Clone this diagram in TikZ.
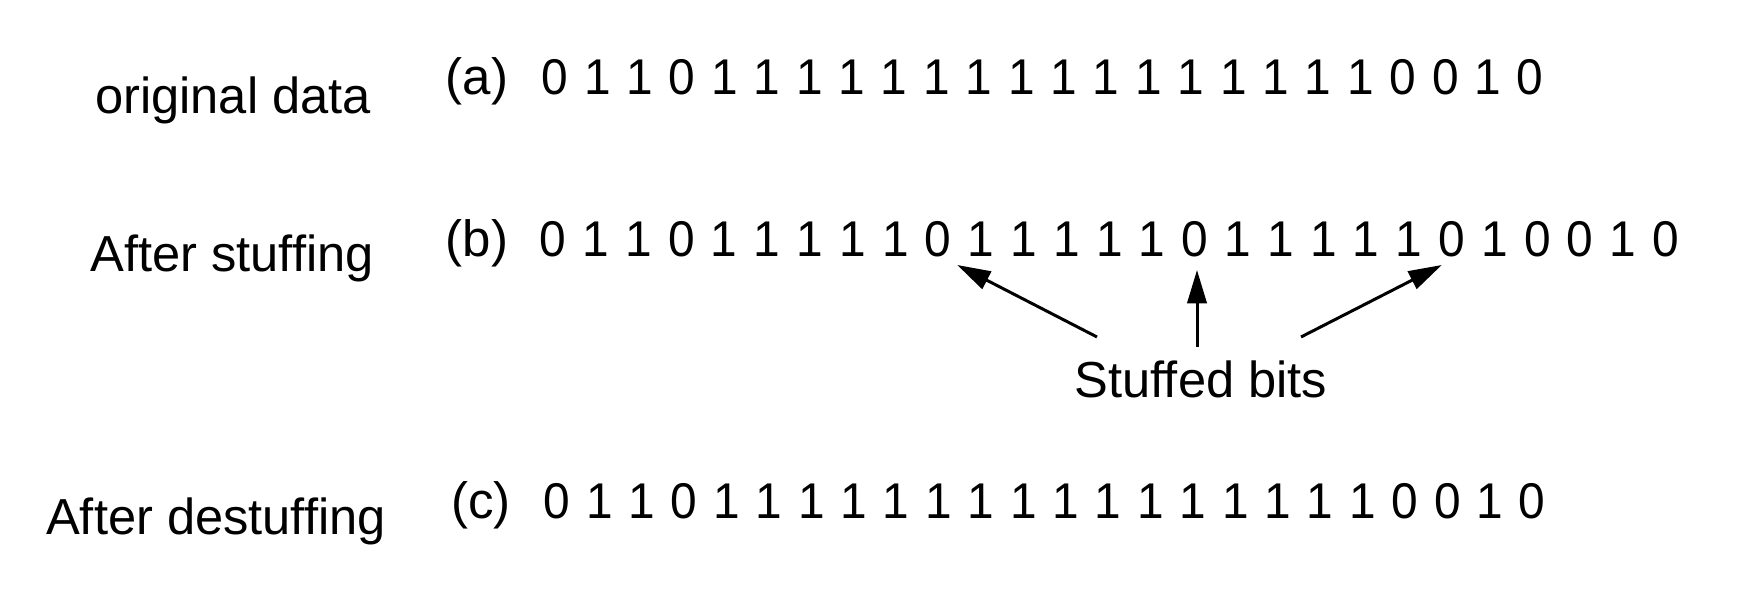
\documentclass[tikz,border=0pt]{standalone}
\usepackage{fontspec}
\setmainfont{Liberation Sans}
\usetikzlibrary{arrows.meta,calc}
\tikzset{
  lbl/.style={anchor=base,inner sep=0pt,font=\fontsize{14.4pt}{17pt}\selectfont},
  bit/.style={anchor=base,inner sep=0pt,font=\fontsize{13.6pt}{16pt}\selectfont,yscale=1.05},
  tag/.style={anchor=base,inner sep=0pt,font=\fontsize{14.5pt}{17pt}\selectfont},
  arr/.style={line width=0.85pt,-{Triangle[length=9.5pt,width=5.5pt]}}
}
\begin{document}
\begin{tikzpicture}[x=0.01cm,y=-0.01cm]
\useasboundingbox (0,0) rectangle (1754,592);
% labels
\node[lbl] (la) at (233,114) {original data};
\node[lbl] (lb) at (232,272) {After stuffing};
\node[lbl] (lc) at (216,535) {After destuffing};
% row tags
\node[tag] (ta) at (477,95) {(a)};
\node[tag] (tb) at (477,257) {(b)};
\node[tag] (tc) at (481,519) {(c)};
% row a
\foreach \d [count=\i] in {0,1,1,0,1,1,1,1,1,1,1,1,1,1,1,1,1,1,1,1,0,0,1,0}
  \node[bit] (a\i) at ({555+(\i-1)*42.4},95) {\d};
% row b
\foreach \d [count=\i] in {0,1,1,0,1,1,1,1,1,0,1,1,1,1,1,0,1,1,1,1,1,0,1,0,0,1,0}
  \node[bit] (b\i) at ({553+(\i-1)*42.8},257) {\d};
% row c
\foreach \d [count=\i] in {0,1,1,0,1,1,1,1,1,1,1,1,1,1,1,1,1,1,1,1,0,0,1,0}
  \node[bit] (c\i) at ({557+(\i-1)*42.4},519) {\d};
% stuffed bits label
\node[lbl] (sb) at (1201,398) {Stuffed bits};
% arrow ends
\coordinate (t1) at ($(b10.base)+(19,8)$);
\coordinate (t2) at ($(b16.base)+(2,13)$);
\coordinate (t3) at ($(b22.base)+(-10,8)$);
\coordinate (s1) at ($(sb.base)+(-104,-61)$);
\coordinate (s2) at ($(sb.base)+(-4,-51)$);
\coordinate (s3) at ($(sb.base)+(100,-61)$);
\draw[arr] (s1) -- (t1);
\draw[arr] (s2) -- (t2);
\draw[arr] (s3) -- (t3);
\end{tikzpicture}
\end{document}
